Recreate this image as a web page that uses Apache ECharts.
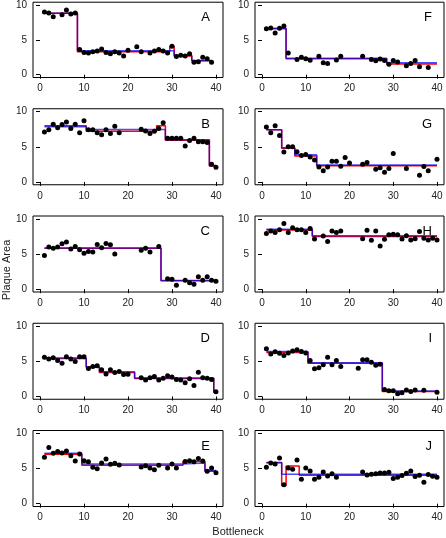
<!DOCTYPE html>
<html>
<head>
<meta charset="utf-8">
<script src="https://cdn.jsdelivr.net/npm/echarts@6/dist/echarts.min.js"></script>
<style>html,body{margin:0;padding:0;background:#fff}#c{width:446px;height:538px}</style>
</head>
<body>
<div id="c"></div>
<script>
const bottleneck = [1,2,3,4,5,6,7,8,9,10,11,12,13,14,15,16,17,18,19,20,21,22,23,24,25,26,27,28,29,30,31,32,33,34,35,36,37,38,39,40];
const xTicks = [0,10,20,30,40];
const yTicks = [0,5,10];
const panelLetters = ['A','B','C','D','E','F','G','H','I','J'];

const dotsA = [9.0,8.85,8.3,null,8.6,9.3,8.7,8.85,3.6,3.2, 3.1,3.3,3.4,3.7,3.2,3.0,3.3,3.1,2.7,3.5, null,4.0,3.3,null,3.1,3.4,3.6,3.4,3.1,4.1, 2.6,2.8,2.7,3.0,1.8,1.85,2.5,2.3,1.8,null];
const dotsB = [7.1,7.4,8.2,7.7,8.15,8.5,7.6,8.2,7.0,8.7, 7.4,7.4,7.0,6.7,7.4,6.9,7.9,7.0,null,null, null,null,7.5,7.25,6.9,7.2,7.6,8.4,6.2,6.2, 6.2,6.2,5.1,5.9,6.2,5.7,5.7,5.6,2.5,2.1];
const dotsC = [4.8,6.0,5.8,6.0,6.45,6.7,5.7,6.05,5.6,5.1, 5.35,5.3,6.35,5.9,6.5,6.3,5.0,null,null,null, null,null,5.55,5.8,5.3,null,6.05,null,1.5,1.4, 0.57,null,1.28,0.9,0.7,1.75,1.28,1.75,1.28,1.14];
const dotsD = [5.56,5.33,5.5,5.1,4.7,5.65,5.33,4.95,5.65,5.65, 3.97,4.25,4.35,3.8,3.2,3.8,3.4,3.55,3.1,3.15, null,null,2.65,2.35,2.65,2.85,2.35,2.6,2.95,2.75, 2.4,2.35,1.95,2.5,1.55,3.45,2.65,2.6,2.4,0.65];
const dotsE = [6.6,8.0,7.15,7.4,7.2,7.5,6.8,6.05,7.05,6.1, 5.96,5.16,4.98,5.77,6.34,5.6,5.73,5.5,null,null, null,null,5.2,5.4,5.07,4.84,5.45,null,5.07,5.63, 5.07,null,6.0,6.1,5.96,6.43,6.06,4.6,5.07,4.4];
const dotsF = [6.6,6.7,6.0,6.65,7.0,3.1,null,2.17,2.5,2.3, 2.07,null,2.64,1.7,1.6,null,2.12,2.64,null,null, null,null,2.64,null,2.2,2.0,2.26,2.03,1.5,2.03, 1.84,null,1.27,1.6,2.03,1.13,null,1.04,null,null];
const dotsG = [7.8,7.0,8.0,6.6,4.27,5.0,5.0,4.3,3.75,3.9, 3.55,3.1,2.13,1.6,2.13,2.94,2.94,2.23,3.46,2.7, null,null,2.5,2.75,null,1.8,2.0,1.37,1.9,4.03, null,null,1.9,null,null,0.95,2.18,1.6,null,3.22];
const dotsH = [7.9,8.26,8.07,8.45,9.34,8.07,8.73,8.45,8.45,8.07, 8.64,7.14,null,7.56,6.76,8.26,8.07,8.26,null,null, null,null,7.18,8.36,6.95,8.26,6.15,7.1,7.75,7.8, 7.75,7.14,7.6,7.0,7.18,8.2,7.23,7.0,7.23,7.0];
const dotsI = [6.78,6.03,6.36,6.12,5.8,6.17,6.45,6.64,6.4,6.17, 5.1,3.93,4.07,4.5,5.56,4.5,5.1,4.25,null,null, null,4.0,5.23,5.23,4.86,4.44,4.58,0.98,0.8,0.8, 0.37,0.51,0.93,0.7,0.93,null,0.89,null,null,0.6];
const dotsJ = [5.16,5.77,5.63,6.48,2.68,5.07,4.88,6.2,3.47,5.07, 4.65,3.47,3.76,4.5,3.94,4.27,3.76,null,null,null, null,null,4.5,4.08,4.18,4.27,4.37,4.37,4.46,3.57, 3.76,4.0,4.32,4.65,3.85,4.04,3.05,4.13,3.9,3.76];

// step fits: breaks (segment boundaries) and levels
const redBreaksA = [1,8.5,29.5,30.5,34.5,39],  redLevelsA = [8.8,3.3,4.05,2.7,2.0];
const blueBreaksA = [1,8.5,30.5,34.5,39],      blueLevelsA = [8.8,3.45,2.8,2.05];
const redBreaksB = [1,10.5,26.5,28.5,38.5,40], redLevelsB = [8.0,7.2,8.0,5.92,2.25];
const blueBreaksB = [1,10.5,28.5,38.5,40],     blueLevelsB = [7.85,7.45,6.0,2.35];
const redBreaksC = [1,27.5,40],                redLevelsC = [5.8,1.25];
const blueBreaksC = [1,27.5,40],               blueLevelsC = [5.85,1.2];
const redBreaksD = [1,10.5,13.5,21.5,39.5,40], redLevelsD = [5.4,4.15,3.4,2.55,0.6];
const blueBreaksD = [1,10.5,13.5,21.5,39.5,40],blueLevelsD = [5.45,4.2,3.5,2.62,0.6];
const redBreaksE = [1,9.5,32.5,37.5,40],       redLevelsE = [7.04,5.45,6.0,4.6];
const blueBreaksE = [1,9.5,32.5,37.5,40],      blueLevelsE = [7.18,5.63,5.77,4.7];
const redBreaksF = [1,5.5,28.5,40],            redLevelsF = [6.6,2.3,1.55];
const blueBreaksF = [1,5.5,28.5,40],           blueLevelsF = [6.65,2.35,1.72];
const redBreaksG = [1,4.5,7.5,12.5,40],        redLevelsG = [7.4,4.8,3.7,2.3];
const blueBreaksG = [1,4.5,7.5,12.5,40],       blueLevelsG = [7.4,4.85,3.88,2.42];
const redBreaksH = [1,11.5,40],                redLevelsH = [8.4,7.5];
const blueBreaksH = [1,11.5,40],               blueLevelsH = [8.5,7.6];
const redBreaksI = [1,10.5,27.5,40],           redLevelsI = [6.25,4.72,0.7];
const blueBreaksI = [1,10.5,27.5,40],          blueLevelsI = [6.38,4.8,0.76];
const redBreaksJ = [1,4.5,5.5,8.5,40],         redLevelsJ = [5.87,2.6,5.35,4.04];
const blueBreaksJ = [1,4.5,40],                blueLevelsJ = [5.8,4.2];

const panels = [
  {dots: dotsA, rb: redBreaksA, rl: redLevelsA, bb: blueBreaksA, bl: blueLevelsA},
  {dots: dotsB, rb: redBreaksB, rl: redLevelsB, bb: blueBreaksB, bl: blueLevelsB},
  {dots: dotsC, rb: redBreaksC, rl: redLevelsC, bb: blueBreaksC, bl: blueLevelsC},
  {dots: dotsD, rb: redBreaksD, rl: redLevelsD, bb: blueBreaksD, bl: blueLevelsD},
  {dots: dotsE, rb: redBreaksE, rl: redLevelsE, bb: blueBreaksE, bl: blueLevelsE},
  {dots: dotsF, rb: redBreaksF, rl: redLevelsF, bb: blueBreaksF, bl: blueLevelsF},
  {dots: dotsG, rb: redBreaksG, rl: redLevelsG, bb: blueBreaksG, bl: blueLevelsG},
  {dots: dotsH, rb: redBreaksH, rl: redLevelsH, bb: blueBreaksH, bl: blueLevelsH},
  {dots: dotsI, rb: redBreaksI, rl: redLevelsI, bb: blueBreaksI, bl: blueLevelsI},
  {dots: dotsJ, rb: redBreaksJ, rl: redLevelsJ, bb: blueBreaksJ, bl: blueLevelsJ}
];

function stepPoints(breaks, levels) {
  const pts = [];
  for (let i = 0; i < levels.length; i++) {
    pts.push([breaks[i], levels[i]]);
    pts.push([breaks[i + 1], levels[i]]);
  }
  return pts;
}

const FONT = 'Liberation Sans, Arial, sans-serif';
const TXT = '#222';
const grids = [], xAxes = [], yAxes = [], series = [], titles = [];
const colLeft = [33, 255], colWidth = [190, 189];
const rowTop0 = 1.5, rowStep = 107.25, rowH = 76;

panels.forEach((p, k) => {
  const col = k < 5 ? 0 : 1, row = k % 5;
  const top = rowTop0 + row * rowStep;
  grids.push({left: colLeft[col], top: top, width: colWidth[col], height: rowH,
    show: true, borderColor: '#000', borderWidth: 1, backgroundColor: '#fff'});
  xAxes.push({type: 'value', gridIndex: k, min: -1.6, max: 41.6,
    axisLine: {show: false}, splitLine: {show: false},
    axisTick: {show: true, inside: false, length: 4, customValues: xTicks, lineStyle: {color: '#000'}},
    axisLabel: {show: true, customValues: xTicks, margin: 6, fontSize: 10, color: TXT, fontFamily: FONT}});
  yAxes.push({type: 'value', gridIndex: k, min: -0.4, max: 10.4,
    axisLine: {show: false}, splitLine: {show: false},
    axisTick: {show: true, inside: false, length: 4, customValues: yTicks, lineStyle: {color: '#000'}},
    axisLabel: {show: true, customValues: yTicks, margin: 6, fontSize: 10, color: TXT, fontFamily: FONT}});
  series.push({type: 'line', xAxisIndex: k, yAxisIndex: k, data: stepPoints(p.rb, p.rl),
    showSymbol: false, symbol: 'none', lineStyle: {color: '#ff0000', width: 1.5}, z: 2, silent: true, animation: false});
  series.push({type: 'line', xAxisIndex: k, yAxisIndex: k, data: stepPoints(p.bb, p.bl),
    showSymbol: false, symbol: 'none', lineStyle: {color: '#0000ff', width: 1.5, opacity: 0.7}, z: 3, silent: true, animation: false});
  series.push({type: 'scatter', xAxisIndex: k, yAxisIndex: k,
    data: bottleneck.map((b, i) => [b, p.dots[i]]).filter(d => d[1] !== null),
    symbol: 'circle', symbolSize: 5, itemStyle: {color: '#000', opacity: 1}, z: 4, silent: true, animation: false});
  titles.push({text: panelLetters[k], right: col === 0 ? 231 : 9, top: top + 4,
    textStyle: {fontSize: 13, fontWeight: 'normal', color: '#000', fontFamily: FONT}});
});

const chart = echarts.init(document.getElementById('c'), null, {renderer: 'canvas'});
chart.setOption({
  animation: false,
  backgroundColor: '#fff',
  title: titles,
  grid: grids,
  xAxis: xAxes,
  yAxis: yAxes,
  series: series,
  graphic: [
    {type: 'text', x: 238, y: 532, style: {text: 'Bottleneck', font: '11px ' + FONT, fill: TXT, textAlign: 'center', textVerticalAlign: 'middle'}},
    {type: 'text', x: 7, y: 270, rotation: Math.PI / 2, style: {text: 'Plaque Area', font: '11px ' + FONT, fill: TXT, textAlign: 'center', textVerticalAlign: 'middle'}}
  ]
});
</script>
</body>
</html>
